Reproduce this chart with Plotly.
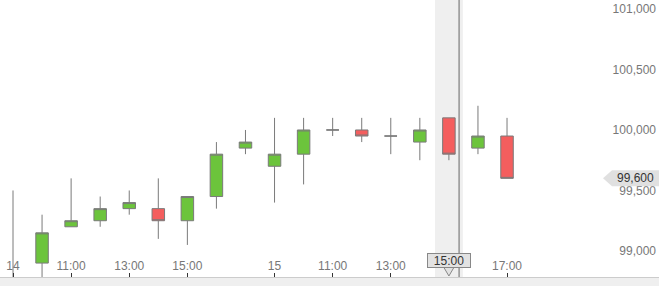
import plotly.graph_objects as go

# ---- data (hourly candles, day 14 and day 15) ----
labels = ["14 09:00", "14 10:00", "14 11:00", "14 12:00", "14 13:00", "14 14:00",
          "14 15:00", "14 16:00", "14 17:00",
          "15 09:00", "15 10:00", "15 11:00", "15 12:00", "15 13:00", "15 14:00",
          "15 15:00", "15 16:00", "15 17:00"]
opens  = [98750, 98900, 99200, 99250, 99350, 99350, 99250, 99450, 99850,
          99700, 99800, 100000, 100000, 99950, 99900, 100100, 99850, 99950]
highs  = [99500, 99300, 99600, 99450, 99500, 99600, 99450, 99900, 100000,
          100100, 100100, 100100, 100100, 100100, 100100, 100100, 100200, 100100]
lows   = [98650, 98750, 99200, 99200, 99300, 99100, 99050, 99350, 99800,
          99400, 99550, 99950, 99900, 99800, 99750, 99750, 99800, 99600]
closes = [98700, 99150, 99250, 99350, 99400, 99250, 99450, 99800, 99900,
          99800, 100000, 100000, 99950, 99950, 100000, 99800, 99950, 99600]

tick_idx  = [0, 2, 4, 6, 9, 11, 13, 17]
tick_text = ["14", "11:00", "13:00", "15:00", "15", "11:00", "13:00", "17:00"]
y_ticks = [99000, 99500, 100000, 100500, 101000]

hover_idx = 15          # highlighted candle (crosshair)
hover_label = "15:00"
last_price = closes[-1]

x = list(range(len(labels)))

fig = go.Figure(go.Candlestick(
    x=x, open=opens, high=highs, low=lows, close=closes,
    increasing=dict(fillcolor="#6cc43c", line=dict(color="#7a7a7a", width=1)),
    decreasing=dict(fillcolor="#f45e5e", line=dict(color="#7a7a7a", width=1)),
    hoverinfo="none", showlegend=False,
))

W, H = 659, 286
mb = 9
plot_h = H - mb
x0_px = 13.0
px_per = 29.06
xr = [-x0_px / px_per, (W - x0_px) / px_per]
yr = [98785, 101074]

# highlight band
fig.add_shape(type="rect", xref="x", yref="paper", x0=hover_idx - 0.48, x1=hover_idx + 0.48,
              y0=0, y1=1, fillcolor="#efefef", line=dict(width=0), layer="below")
# crosshair line
fig.add_shape(type="line", xref="x", yref="paper", x0=hover_idx + 0.35, x1=hover_idx + 0.35,
              y0=0, y1=1, line=dict(color="#666666", width=1))

# crosshair label box with pointer
tri_w = 5 / px_per
y_box_bot = (plot_h - 267.5) / plot_h
y_tip = (plot_h - 276) / plot_h
fig.add_shape(type="path", xref="x", yref="paper",
              path=f"M {hover_idx - tri_w} {y_box_bot} L {hover_idx + tri_w} {y_box_bot} L {hover_idx} {y_tip} Z",
              fillcolor="#e2e2e2", line=dict(color="#888888", width=1))
fig.add_annotation(x=hover_idx, xref="x", xanchor="center",
                   y=(plot_h - 260.5) / plot_h, yref="paper", yanchor="middle",
                   text=hover_label, showarrow=False, width=42, height=13,
                   font=dict(family="Liberation Sans, Arial", size=12, color="#333333"),
                   bgcolor="#e2e2e2", bordercolor="#888888", borderwidth=1, borderpad=0)

# last price tag
tag_h_val = 8 / 0.121
fig.add_shape(type="path", xref="paper", yref="y",
              path=(f"M {603/W} {last_price} L {612/W} {last_price + tag_h_val} L {1} {last_price + tag_h_val} "
                    f"L {1} {last_price - tag_h_val} L {612/W} {last_price - tag_h_val} Z"),
              fillcolor="#e0e0e0", line=dict(width=0))
fig.add_annotation(x=1, xref="paper", xanchor="right", y=last_price, yref="y", yanchor="middle",
                   text=f"{last_price:,}", showarrow=False, xshift=-3,
                   font=dict(family="Liberation Sans, Arial", size=12, color="#333333"))

fig.update_layout(
    width=W, height=H,
    margin=dict(l=0, r=0, t=0, b=mb),
    paper_bgcolor="#efefef", plot_bgcolor="white",
    boxgap=0.57, boxgroupgap=0,
    font=dict(family="Liberation Sans, Arial", size=12, color="#777777"),
    xaxis=dict(range=xr, rangeslider=dict(visible=False), showgrid=False, zeroline=False,
               tickmode="array", tickvals=tick_idx, ticktext=tick_text,
               ticks="inside", ticklen=4, tickcolor="#333333", ticklabelposition="inside",
               showline=True, linecolor="#cccccc", tickfont=dict(color="#777777", size=12)),
    yaxis=dict(range=yr, side="right", showgrid=False, zeroline=False, ticks="",
               tickmode="array", tickvals=y_ticks, tickformat=",",
               ticklabelposition="inside", tickfont=dict(color="#777777", size=12)),
)

fig.write_html("out.html", config={"displayModeBar": False})
